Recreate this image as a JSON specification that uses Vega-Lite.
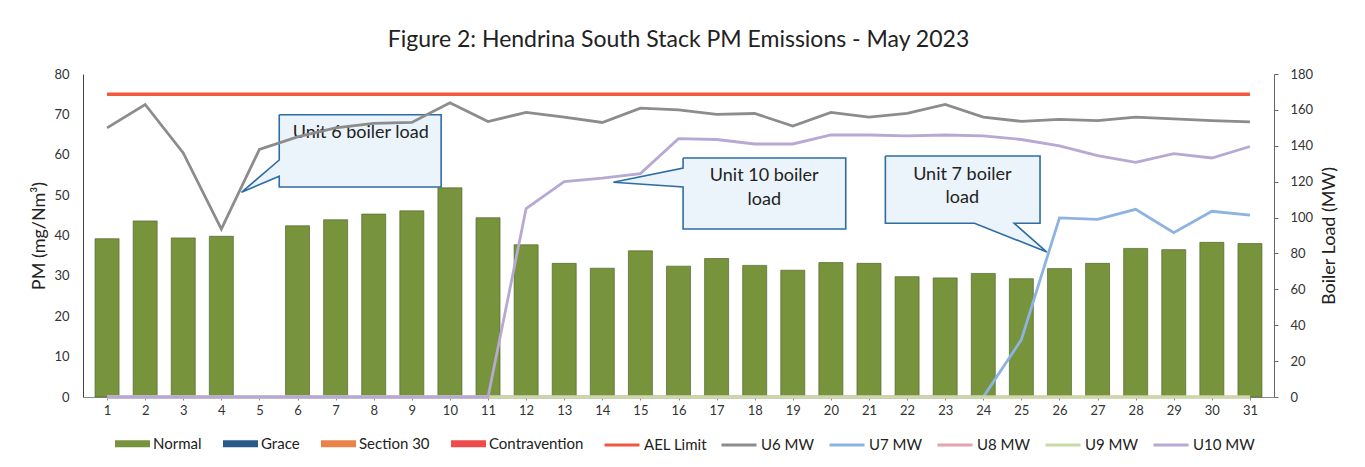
{
  "$schema": "https://vega.github.io/schema/vega-lite/v6.json",
  "width": 1191,
  "height": 323,
  "autosize": "none",
  "padding": {"left": 83, "top": 74, "right": 91, "bottom": 70},
  "background": "white",
  "title": {
    "text": "Figure 2: Hendrina South Stack PM Emissions -  May 2023",
    "font": "Lato",
    "fontSize": 23,
    "fontWeight": "normal",
    "color": "#222222",
    "anchor": "middle",
    "offset": 16
  },
  "config": {
    "view": {"stroke": null},
    "axis": {
      "labelFont": "Lato",
      "labelFontSize": 13,
      "labelColor": "#333333",
      "titleFont": "Lato",
      "titleFontSize": 18,
      "titleFontWeight": "normal",
      "titleColor": "#222222",
      "grid": false
    },
    "legend": {
      "labelFont": "Lato",
      "labelFontSize": 15,
      "labelColor": "#222222",
      "labelOffset": 3,
      "symbolOpacity": 1
    }
  },
  "datasets": {
    "days": [
      {"day": 1, "cat": "Normal", "pm": 39.2, "ael": 75, "U6 MW": 150, "U7 MW": 0, "U8 MW": 0, "U9 MW": 0, "U10 MW": 0},
      {"day": 2, "cat": "Normal", "pm": 43.6, "ael": 75, "U6 MW": 163, "U7 MW": 0, "U8 MW": 0, "U9 MW": 0, "U10 MW": 0},
      {"day": 3, "cat": "Normal", "pm": 39.4, "ael": 75, "U6 MW": 136, "U7 MW": 0, "U8 MW": 0, "U9 MW": 0, "U10 MW": 0},
      {"day": 4, "cat": "Normal", "pm": 39.8, "ael": 75, "U6 MW": 93.6, "U7 MW": 0, "U8 MW": 0, "U9 MW": 0, "U10 MW": 0},
      {"day": 5, "cat": "Normal", "pm": null, "ael": 75, "U6 MW": 138, "U7 MW": 0, "U8 MW": 0, "U9 MW": 0, "U10 MW": 0},
      {"day": 6, "cat": "Normal", "pm": 42.4, "ael": 75, "U6 MW": 145, "U7 MW": 0, "U8 MW": 0, "U9 MW": 0, "U10 MW": 0},
      {"day": 7, "cat": "Normal", "pm": 43.9, "ael": 75, "U6 MW": 150, "U7 MW": 0, "U8 MW": 0, "U9 MW": 0, "U10 MW": 0},
      {"day": 8, "cat": "Normal", "pm": 45.3, "ael": 75, "U6 MW": 152.5, "U7 MW": 0, "U8 MW": 0, "U9 MW": 0, "U10 MW": 0},
      {"day": 9, "cat": "Normal", "pm": 46.1, "ael": 75, "U6 MW": 153, "U7 MW": 0, "U8 MW": 0, "U9 MW": 0, "U10 MW": 0},
      {"day": 10, "cat": "Normal", "pm": 51.8, "ael": 75, "U6 MW": 164, "U7 MW": 0, "U8 MW": 0, "U9 MW": 0, "U10 MW": 0},
      {"day": 11, "cat": "Normal", "pm": 44.4, "ael": 75, "U6 MW": 153.5, "U7 MW": 0, "U8 MW": 0, "U9 MW": 0, "U10 MW": 0},
      {"day": 12, "cat": "Normal", "pm": 37.7, "ael": 75, "U6 MW": 158.6, "U7 MW": 0, "U8 MW": 0, "U9 MW": 0, "U10 MW": 105},
      {"day": 13, "cat": "Normal", "pm": 33.1, "ael": 75, "U6 MW": 156, "U7 MW": 0, "U8 MW": 0, "U9 MW": 0, "U10 MW": 120},
      {"day": 14, "cat": "Normal", "pm": 31.9, "ael": 75, "U6 MW": 153, "U7 MW": 0, "U8 MW": 0, "U9 MW": 0, "U10 MW": 122},
      {"day": 15, "cat": "Normal", "pm": 36.2, "ael": 75, "U6 MW": 161, "U7 MW": 0, "U8 MW": 0, "U9 MW": 0, "U10 MW": 124.5},
      {"day": 16, "cat": "Normal", "pm": 32.4, "ael": 75, "U6 MW": 160, "U7 MW": 0, "U8 MW": 0, "U9 MW": 0, "U10 MW": 144},
      {"day": 17, "cat": "Normal", "pm": 34.3, "ael": 75, "U6 MW": 157.5, "U7 MW": 0, "U8 MW": 0, "U9 MW": 0, "U10 MW": 143.5},
      {"day": 18, "cat": "Normal", "pm": 32.6, "ael": 75, "U6 MW": 158, "U7 MW": 0, "U8 MW": 0, "U9 MW": 0, "U10 MW": 141},
      {"day": 19, "cat": "Normal", "pm": 31.4, "ael": 75, "U6 MW": 151, "U7 MW": 0, "U8 MW": 0, "U9 MW": 0, "U10 MW": 141},
      {"day": 20, "cat": "Normal", "pm": 33.3, "ael": 75, "U6 MW": 158.6, "U7 MW": 0, "U8 MW": 0, "U9 MW": 0, "U10 MW": 146},
      {"day": 21, "cat": "Normal", "pm": 33.1, "ael": 75, "U6 MW": 156, "U7 MW": 0, "U8 MW": 0, "U9 MW": 0, "U10 MW": 146},
      {"day": 22, "cat": "Normal", "pm": 29.8, "ael": 75, "U6 MW": 158, "U7 MW": 0, "U8 MW": 0, "U9 MW": 0, "U10 MW": 145.5},
      {"day": 23, "cat": "Normal", "pm": 29.5, "ael": 75, "U6 MW": 163, "U7 MW": 0, "U8 MW": 0, "U9 MW": 0, "U10 MW": 146},
      {"day": 24, "cat": "Normal", "pm": 30.6, "ael": 75, "U6 MW": 156, "U7 MW": 0, "U8 MW": 0, "U9 MW": 0, "U10 MW": 145.5},
      {"day": 25, "cat": "Normal", "pm": 29.3, "ael": 75, "U6 MW": 153.6, "U7 MW": 32, "U8 MW": 0, "U9 MW": 0, "U10 MW": 143.5},
      {"day": 26, "cat": "Normal", "pm": 31.8, "ael": 75, "U6 MW": 154.7, "U7 MW": 99.8, "U8 MW": 0, "U9 MW": 0, "U10 MW": 140},
      {"day": 27, "cat": "Normal", "pm": 33.1, "ael": 75, "U6 MW": 154, "U7 MW": 99, "U8 MW": 0, "U9 MW": 0, "U10 MW": 134.5},
      {"day": 28, "cat": "Normal", "pm": 36.8, "ael": 75, "U6 MW": 156, "U7 MW": 104.6, "U8 MW": 0, "U9 MW": 0, "U10 MW": 130.8},
      {"day": 29, "cat": "Normal", "pm": 36.5, "ael": 75, "U6 MW": 155, "U7 MW": 91.6, "U8 MW": 0, "U9 MW": 0, "U10 MW": 135.6},
      {"day": 30, "cat": "Normal", "pm": 38.3, "ael": 75, "U6 MW": 154, "U7 MW": 103.5, "U8 MW": 0, "U9 MW": 0, "U10 MW": 133.2},
      {"day": 31, "cat": "Normal", "pm": 38.0, "ael": 75, "U6 MW": 153.3, "U7 MW": 101.3, "U8 MW": 0, "U9 MW": 0, "U10 MW": 139.6}
    ],
    "callout": [
      {"id": "c1", "o": 1, "day": 5.52, "pm": 69.9},
      {"id": "c1", "o": 2, "day": 9.77, "pm": 69.9},
      {"id": "c1", "o": 3, "day": 9.77, "pm": 52.0},
      {"id": "c1", "o": 4, "day": 5.52, "pm": 52.0},
      {"id": "c1", "o": 5, "day": 5.52, "pm": 54.7},
      {"id": "c1", "o": 6, "day": 4.53, "pm": 50.7},
      {"id": "c1", "o": 7, "day": 5.52, "pm": 58.7},
      {"id": "c1", "o": 8, "day": 5.52, "pm": 69.9},
      {"id": "c2", "o": 1, "day": 16.12, "pm": 59.2},
      {"id": "c2", "o": 2, "day": 20.39, "pm": 59.2},
      {"id": "c2", "o": 3, "day": 20.39, "pm": 41.6},
      {"id": "c2", "o": 4, "day": 16.12, "pm": 41.6},
      {"id": "c2", "o": 5, "day": 16.12, "pm": 52.0},
      {"id": "c2", "o": 6, "day": 14.29, "pm": 53.2},
      {"id": "c2", "o": 7, "day": 16.12, "pm": 56.7},
      {"id": "c2", "o": 8, "day": 16.12, "pm": 59.2},
      {"id": "c3", "o": 1, "day": 21.43, "pm": 59.7},
      {"id": "c3", "o": 2, "day": 25.49, "pm": 59.7},
      {"id": "c3", "o": 3, "day": 25.49, "pm": 43.05},
      {"id": "c3", "o": 4, "day": 24.81, "pm": 43.05},
      {"id": "c3", "o": 5, "day": 25.67, "pm": 35.9},
      {"id": "c3", "o": 6, "day": 23.77, "pm": 43.05},
      {"id": "c3", "o": 7, "day": 21.43, "pm": 43.05},
      {"id": "c3", "o": 8, "day": 21.43, "pm": 59.7}
    ],
    "labels": [
      {"day": 7.66, "pm": 65.4, "txt": "Unit 6 boiler load"},
      {"day": 18.25, "pm": 54.7, "txt": "Unit 10 boiler"},
      {"day": 18.25, "pm": 48.8, "txt": "load"},
      {"day": 23.45, "pm": 55.0, "txt": "Unit 7 boiler"},
      {"day": 23.45, "pm": 49.3, "txt": "load"}
    ]
  },
  "encoding": {
    "x": {
      "field": "day",
      "type": "quantitative",
      "scale": {"domain": [0.5, 31.5], "nice": false, "zero": false},
      "axis": {
        "title": null,
        "values": [1,2,3,4,5,6,7,8,9,10,11,12,13,14,15,16,17,18,19,20,21,22,23,24,25,26,27,28,29,30,31],
        "format": "d",
        "domainColor": "#8a8a8a",
        "tickColor": "#8a8a8a",
        "tickSize": 3,
        "labelPadding": 4,
        "labelFlush": false
      }
    }
  },
  "layer": [
    {
      "encoding": {
        "y": {
          "field": "pm",
          "type": "quantitative",
          "scale": {"domain": [0, 80], "nice": false},
          "axis": {
            "orient": "left",
            "title": "PM (mg/Nm³)",
            "values": [0, 10, 20, 30, 40, 50, 60, 70, 80],
            "ticks": false,
            "labelPadding": 14,
            "titlePadding": 5,
            "domainColor": "#444444"
          }
        }
      },
      "layer": [
        {
          "data": {"name": "callout"},
          "mark": {"type": "line", "fill": "#EBF3FB", "stroke": "#2E6DA4", "strokeWidth": 1.6, "strokeJoin": "miter"},
          "encoding": {
            "detail": {"field": "id"},
            "order": {"field": "o", "type": "quantitative"}
          }
        },
        {
          "data": {"name": "labels"},
          "mark": {"type": "text", "font": "Lato", "fontSize": 18, "color": "#222222", "baseline": "middle", "align": "center"},
          "encoding": {"text": {"field": "txt"}}
        },
        {
          "data": {"name": "days"},
          "mark": {"type": "bar", "width": 24, "stroke": "#51692f", "strokeWidth": 0.7},
          "encoding": {
            "fill": {
              "field": "cat",
              "type": "nominal",
              "scale": {
                "domain": ["Normal", "Grace", "Section 30", "Contravention"],
                "range": ["#77933C", "#2A5A88", "#E8834A", "#F04A4A"]
              },
              "legend": {
                "title": null,
                "orient": "none",
                "legendX": 32,
                "legendY": 352,
                "direction": "horizontal",
                "columns": 4,
                "columnPadding": 21,
                "symbolType": "M-1,-0.2H1V0.2H-1Z",
                "symbolSize": 1225,
                "symbolStrokeWidth": 0
              }
            }
          }
        },
        {
          "data": {"name": "days"},
          "mark": {"type": "line", "strokeWidth": 3.5},
          "encoding": {
            "y": {"field": "ael", "type": "quantitative"},
            "stroke": {
              "datum": "AEL Limit",
              "type": "nominal",
              "scale": {
                "domain": ["AEL Limit", "U6 MW", "U7 MW", "U8 MW", "U9 MW", "U10 MW"],
                "range": ["#F2583E", "#8C8C8C", "#8DB3E2", "#E6A3AD", "#C8DBA6", "#B7A9D3"]
              },
              "legend": {
                "title": null,
                "orient": "none",
                "legendX": 520,
                "legendY": 352,
                "direction": "horizontal",
                "columns": 6,
                "columnPadding": 8,
                "symbolType": "stroke",
                "symbolSize": 1225,
                "symbolStrokeWidth": 3
              }
            }
          }
        }
      ]
    },
    {
      "data": {"name": "days"},
      "transform": [
        {"fold": ["U6 MW", "U7 MW", "U8 MW", "U9 MW", "U10 MW"], "as": ["unit", "mw"]}
      ],
      "mark": {"type": "line", "strokeWidth": 2.8},
      "encoding": {
        "y": {
          "field": "mw",
          "type": "quantitative",
          "scale": {"domain": [0, 180], "nice": false},
          "axis": {
            "orient": "right",
            "title": "Boiler Load (MW)",
            "titleAngle": 270,
            "titleBaseline": "top",
            "values": [0, 20, 40, 60, 80, 100, 120, 140, 160, 180],
            "tickSize": 4,
            "tickColor": "#666666",
            "domainColor": "#666666",
            "labelPadding": 12,
            "titlePadding": 8
          }
        },
        "stroke": {
          "field": "unit",
          "type": "nominal",
          "legend": {
            "title": null,
            "orient": "none",
            "legendX": 520,
            "legendY": 352,
            "direction": "horizontal",
            "columns": 6,
            "columnPadding": 8,
            "symbolType": "stroke",
            "symbolSize": 1225,
            "symbolStrokeWidth": 3
          }
        }
      }
    }
  ],
  "resolve": {"scale": {"y": "independent"}}
}
